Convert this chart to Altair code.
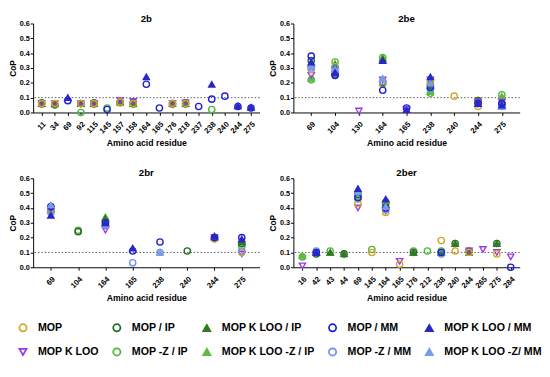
import altair as alt
import pandas as pd

N = None

SERIES = ["MOP", "MOP K LOO", "MOP / IP", "MOP -Z / IP", "MOP K LOO / IP",
          "MOP K LOO -Z / IP", "MOP / MM", "MOP -Z / MM", "MOP K LOO / MM", "MOP K LOO -Z/ MM"]
COLORS = ["#D0A62A", "#9A3BE6", "#1F6B1F", "#4CB83A", "#2F7A22",
          "#5DBB45", "#1E1ED8", "#6F8DEB", "#2828C8", "#7A9BEA"]
FILLS = ["transparent", "transparent", "transparent", "transparent", "#2F7A22",
         "#5DBB45", "transparent", "transparent", "#2828C8", "#7A9BEA"]
SHAPES = ["circle", "triangle-down", "circle", "circle", "triangle-up",
          "triangle-up", "circle", "circle", "triangle-up", "triangle-up"]

# ---- panel 2b ----
res_2b = [11, 34, 69, 92, 115, 145, 157, 158, 164, 165, 176, 218, 237, 238, 240, 244, 275]
v2b = {
    "MOP":               [0.06, 0.06, N, 0.06, 0.06, N, 0.07, 0.06, N, N, 0.06, 0.06, N, N, N, N, N],
    "MOP K LOO":         [0.06, 0.06, N, 0.06, 0.06, N, 0.08, 0.075, N, N, 0.06, 0.065, N, N, N, N, N],
    "MOP / IP":          [0.065, 0.055, N, 0.06, 0.065, N, 0.07, 0.065, N, N, 0.06, 0.065, N, N, N, N, N],
    "MOP -Z / IP":       [0.055, 0.05, N, 0.0, 0.055, 0.03, 0.065, 0.055, N, N, 0.055, 0.055, N, 0.02, N, N, N],
    "MOP K LOO / IP":    [0.06, 0.06, N, 0.06, 0.06, N, 0.07, 0.06, N, N, 0.06, 0.06, N, N, N, N, N],
    "MOP K LOO -Z / IP": [N] * 17,
    "MOP / MM":          [N, N, 0.08, N, N, 0.02, N, N, 0.19, 0.03, N, N, 0.04, 0.09, 0.11, 0.04, 0.03],
    "MOP -Z / MM":       [N] * 17,
    "MOP K LOO / MM":    [N, N, 0.10, N, N, N, N, N, 0.24, N, N, N, N, 0.19, N, 0.045, 0.035],
    "MOP K LOO -Z/ MM":  [N] * 17,
}

# ---- panel 2be ----
res_2be = [69, 104, 130, 164, 165, 238, 240, 244, 275]
v2be = {
    "MOP":               [0.29, 0.31, N, 0.19, N, 0.21, 0.11, 0.04, N],
    "MOP K LOO":         [0.25, 0.26, 0.01, 0.22, 0.02, 0.22, N, 0.07, 0.07],
    "MOP / IP":          [0.35, 0.26, N, 0.20, N, 0.19, N, 0.08, 0.06],
    "MOP -Z / IP":       [0.22, 0.34, N, 0.37, N, 0.13, N, N, 0.12],
    "MOP K LOO / IP":    [0.33, 0.32, N, 0.36, N, 0.18, N, 0.08, 0.07],
    "MOP K LOO -Z / IP": [0.23, 0.33, N, 0.37, N, 0.14, N, N, 0.11],
    "MOP / MM":          [0.38, 0.25, N, 0.15, 0.03, 0.17, N, 0.06, 0.06],
    "MOP -Z / MM":       [0.30, 0.30, N, 0.21, N, 0.16, N, N, 0.04],
    "MOP K LOO / MM":    [0.34, 0.27, N, 0.35, 0.02, 0.24, N, 0.06, 0.05],
    "MOP K LOO -Z/ MM":  [0.31, 0.29, N, 0.23, N, 0.20, N, N, 0.04],
}

# ---- panel 2br ----
res_2br = [69, 104, 164, 165, 238, 240, 244, 275]
v2br = {
    "MOP":               [0.39, N, 0.28, N, N, N, 0.19, 0.10],
    "MOP K LOO":         [0.38, N, 0.25, N, N, N, 0.20, 0.09],
    "MOP / IP":          [0.40, 0.24, 0.29, N, N, 0.11, 0.20, 0.16],
    "MOP -Z / IP":       [0.38, 0.25, 0.31, N, N, N, N, 0.14],
    "MOP K LOO / IP":    [0.40, N, 0.33, N, N, N, 0.20, 0.17],
    "MOP K LOO -Z / IP": [0.39, N, 0.34, N, N, N, N, N],
    "MOP / MM":          [0.41, N, 0.30, 0.11, 0.17, N, 0.20, 0.20],
    "MOP -Z / MM":       [0.37, N, 0.28, 0.03, 0.10, N, N, 0.11],
    "MOP K LOO / MM":    [0.35, N, 0.30, 0.13, N, N, 0.21, 0.19],
    "MOP K LOO -Z/ MM":  [0.42, N, 0.29, N, 0.10, N, N, N],
}

# ---- panel 2ber ----
res_2ber = [16, 42, 43, 44, 69, 145, 164, 165, 176, 212, 238, 240, 244, 265, 275, 284]
v2ber = {
    "MOP":               [N, N, N, N, 0.43, 0.10, 0.37, 0.02, N, N, 0.18, 0.11, 0.10, N, 0.09, N],
    "MOP K LOO":         [0.01, N, N, N, 0.40, N, 0.38, 0.04, N, N, N, N, 0.11, 0.12, 0.10, 0.07],
    "MOP / IP":          [N, 0.09, N, 0.09, 0.49, N, 0.43, N, 0.10, N, 0.10, 0.16, 0.11, N, 0.16, N],
    "MOP -Z / IP":       [0.07, N, 0.11, N, 0.46, 0.12, 0.44, N, 0.11, 0.11, 0.11, N, N, N, N, N],
    "MOP K LOO / IP":    [N, 0.10, 0.10, 0.09, 0.52, N, 0.42, N, 0.10, N, 0.10, 0.16, 0.10, N, 0.16, N],
    "MOP K LOO -Z / IP": [0.08, N, 0.10, N, 0.50, N, 0.45, N, 0.10, N, 0.10, N, N, N, N, N],
    "MOP / MM":          [N, 0.10, N, N, 0.47, N, 0.40, N, N, N, 0.10, N, N, N, N, 0.00],
    "MOP -Z / MM":       [N, 0.11, N, N, 0.48, N, 0.39, N, N, N, 0.09, N, N, N, N, N],
    "MOP K LOO / MM":    [N, 0.10, N, N, 0.53, N, 0.46, N, N, N, N, N, N, N, N, N],
    "MOP K LOO -Z/ MM":  [N, N, N, N, 0.51, N, 0.41, N, N, N, N, N, N, N, N, N],
}

Y_TICKS = [0.0, 0.1, 0.2, 0.3, 0.4, 0.5, 0.6]
THRESHOLD = [0.1]
DRAW_ORDER = ["MOP -Z / IP", "MOP / IP", "MOP K LOO -Z / IP", "MOP K LOO / IP",
              "MOP K LOO", "MOP",
              "MOP -Z / MM", "MOP / MM", "MOP K LOO -Z/ MM", "MOP K LOO / MM"]

W, H = 234, 92


def y_enc(field):
    return alt.Y(field, scale=alt.Scale(domain=[0, 0.6], nice=False, zero=True),
                 axis=alt.Axis(title="CoP", values=Y_TICKS, format=".1f"))


def panel(name, residues, values, pad):
    rows = []
    for s in DRAW_ORDER:
        for r, v in zip(residues, values[s]):
            if v is not None:
                rows.append({"residue": str(r), "series": s, "value": v})
    df = pd.DataFrame(rows)
    pts = alt.Chart(df).mark_point(filled=False, size=42, strokeWidth=1.4, opacity=1).encode(
        x=alt.X("residue:N", sort=[str(r) for r in residues],
                scale=alt.Scale(type="point", padding=pad),
                axis=alt.Axis(title="Amino acid residue", labelAngle=-45,
                              labelFontSize=8, labelPadding=5, titlePadding=4,
                              titleFontSize=9)),
        y=y_enc("value:Q"),
        stroke=alt.Stroke("series:N", scale=alt.Scale(domain=SERIES, range=COLORS),
                          legend=alt.Legend(title=None)),
        fill=alt.Fill("series:N", scale=alt.Scale(domain=SERIES, range=FILLS),
                      legend=alt.Legend(title=None)),
        shape=alt.Shape("series:N", scale=alt.Scale(domain=SERIES, range=SHAPES),
                        legend=alt.Legend(title=None)),
    )
    rule = alt.Chart(pd.DataFrame({"value": THRESHOLD})).mark_rule(
        color="#555555", strokeDash=[1.5, 2], strokeWidth=1
    ).encode(y=y_enc("value:Q"))
    return alt.layer(rule, pts).properties(
        width=W, height=H,
        title=alt.TitleParams(name, frame="group", offset=-4)
    )


p1 = panel("2b", res_2b, v2b, 0.65)
p2 = panel("2be", res_2be, v2be, 0.75)
p3 = panel("2br", res_2br, v2br, 0.65)
p4 = panel("2ber", res_2ber, v2ber, 0.65)

chart = alt.vconcat(
    alt.hconcat(p1, p2, spacing=8),
    alt.hconcat(p3, p4, spacing=8),
    spacing=21,
).properties(
    padding={"left": 0, "top": 0, "right": 0, "bottom": 0}
).configure(
    font="Liberation Sans"
).configure_view(
    stroke=None
).configure_title(
    fontSize=10, fontWeight="bold", color="black", font="Liberation Sans"
).configure_axis(
    domainColor="black", tickColor="black", labelColor="black", titleColor="black",
    labelFont="Liberation Sans", titleFont="Liberation Sans",
    labelFontWeight="bold", titleFontWeight="bold",
    labelFontSize=7.5, titleFontSize=8.5, tickSize=3, labelPadding=1, titlePadding=2,
    grid=False, domainWidth=1
).configure_legend(
    orient="none", legendX=-16, legendY=309, columns=5, columnPadding=11, rowPadding=10,
    labelFont="Liberation Sans", labelFontSize=11, labelFontWeight="bold", labelColor="black",
    symbolSize=55, symbolStrokeWidth=1.8, labelOffset=10
)

chart.save("out.html", embed_options={"renderer": "svg", "actions": False})
